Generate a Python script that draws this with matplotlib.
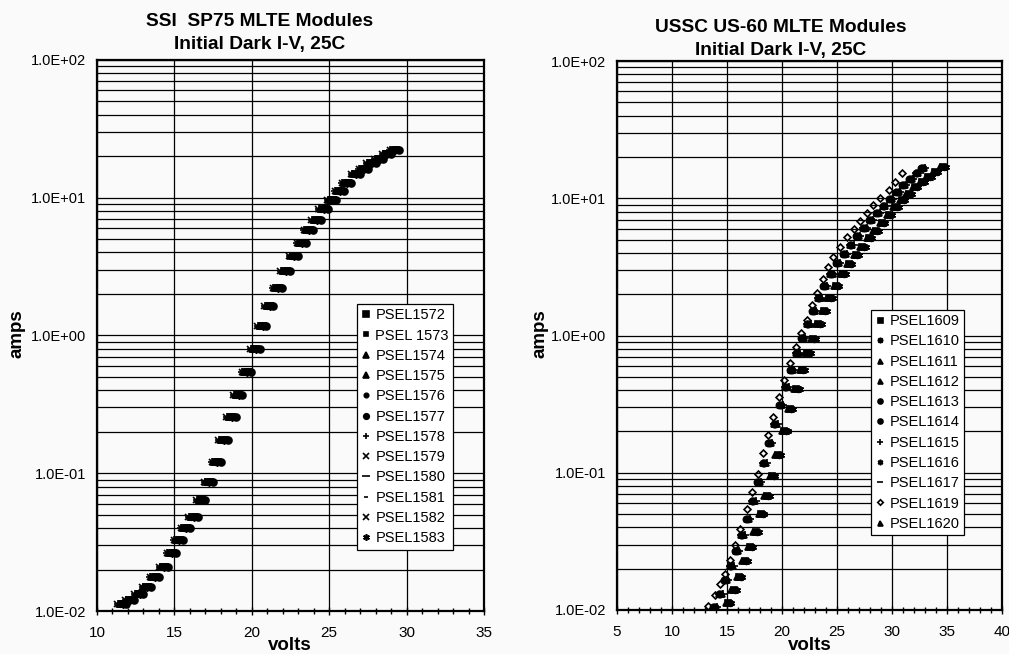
import matplotlib
matplotlib.use("Agg")
import matplotlib.pyplot as plt
from matplotlib.ticker import MultipleLocator, LogLocator, FuncFormatter, NullFormatter

plt.rcParams['font.family'] = ['Liberation Sans', 'DejaVu Sans']

# ---- SSI SP75 modules (left) ----
ssi_names = ['PSEL1572', 'PSEL 1573', 'PSEL1574', 'PSEL1575', 'PSEL1576', 'PSEL1577',
             'PSEL1578', 'PSEL1579', 'PSEL1580', 'PSEL1581', 'PSEL1582', 'PSEL1583']
ssi_markers = ['s', 's', '^', '^', 'o', 'o', '+', 'x', '_', '_', 'x', (6, 2, 0)]
ssi_msize = [5, 4, 5, 5, 4, 5, 6, 5, 7, 4, 5, 6]
# common curve (volts, amps)
ssi_v = [11.6, 12.1, 12.7, 13.2, 13.7, 14.3, 14.8, 15.25, 15.7, 16.2, 16.7, 17.2,
         17.7, 18.15, 18.65, 19.1, 19.65, 20.2, 20.65, 21.1, 21.65, 22.15, 22.7, 23.2,
         23.65, 24.15, 24.6, 25.15, 25.65, 26.1, 26.7, 27.2, 27.7, 28.2, 28.7, 29.2]
ssi_i = [0.0112, 0.0120, 0.0134, 0.0150, 0.0177, 0.0210, 0.0262, 0.0328, 0.0400, 0.048,
         0.064, 0.087, 0.121, 0.174, 0.255, 0.37, 0.546, 0.80, 1.17, 1.62, 2.19, 2.95,
         3.78, 4.7, 5.8, 6.9, 8.2, 9.6, 11.2, 12.7, 14.8, 16.2, 17.8, 19.0, 20.8, 22.2]
# module-to-module spread (volts)
ssi_dv = [0.0, 0.1, -0.2, 0.25, -0.1, 0.3, -0.25, 0.15, -0.05, 0.2, -0.3, 0.05]

# ---- USSC US-60 modules (right) ----
ussc_names = ['PSEL1609', 'PSEL1610', 'PSEL1611', 'PSEL1612', 'PSEL1613', 'PSEL1614',
              'PSEL1615', 'PSEL1616', 'PSEL1617', 'PSEL1619', 'PSEL1620']
ussc_markers = ['s', (8, 1, 0), '^', '^', 'o', 'o', '+', (6, 2, 0), '_', 'D', '^']
ussc_msize = [4.5, 5, 4.5, 4.5, 4.5, 4.5, 5.5, 5, 6, 3.5, 4.5]
ussc_group = ['right', 'right', 'mid', 'mid', 'mid', 'mid', 'mid', 'right', 'mid', 'left', 'right']
ussc_dv = [0.0, 0.15, -0.1, 0.1, 0.0, -0.15, 0.2, 0.3, -0.1, 0.0, -0.2]

left_v = [13.3, 13.9, 14.4, 14.8, 15.27, 15.7, 16.2, 16.8, 17.25, 17.85, 18.3, 18.75,
          19.2, 19.75, 20.2, 20.7, 21.25, 21.7, 22.25, 22.7, 23.15, 23.7, 24.2, 24.67,
          25.27, 25.9, 26.5, 27.1, 27.7, 28.3, 28.9, 29.7, 30.3, 30.9]
left_i = [0.0107, 0.0129, 0.0155, 0.0183, 0.0231, 0.030, 0.0387, 0.0542, 0.072, 0.098,
          0.139, 0.188, 0.256, 0.355, 0.474, 0.627, 0.82, 1.05, 1.30, 1.67, 2.03, 2.57,
          3.17, 3.75, 4.43, 5.19, 5.94, 6.86, 7.77, 8.92, 10.0, 11.5, 13.2, 15.4]
mid_v = [13.9, 14.4, 14.9, 15.4, 15.9, 16.4, 16.9, 17.4, 17.9, 18.4, 18.9, 19.4, 19.9,
         20.4, 20.9, 21.4, 21.9, 22.4, 22.9, 23.4, 23.9, 24.5, 25.1, 25.7, 26.3, 26.9,
         27.5, 28.1, 28.7, 29.3, 29.9, 30.5, 31.1, 31.7, 32.3, 32.8]
mid_i = [0.0105, 0.0130, 0.0165, 0.021, 0.027, 0.035, 0.046, 0.062, 0.085, 0.118, 0.165,
         0.228, 0.31, 0.42, 0.56, 0.74, 0.96, 1.22, 1.52, 1.88, 2.28, 2.80, 3.35, 3.95,
         4.6, 5.3, 6.05, 6.9, 7.8, 8.8, 9.9, 11.1, 12.4, 13.8, 15.2, 16.5]
right_v = [15.1, 15.6, 16.1, 16.6, 17.1, 17.6, 18.1, 18.6, 19.1, 19.6, 20.2, 20.7, 21.3,
           21.8, 22.3, 22.8, 23.3, 23.8, 24.3, 24.9, 25.5, 26.1, 26.7, 27.3, 27.9, 28.5,
           29.1, 29.7, 30.3, 30.9, 31.5, 32.1, 32.7, 33.3, 33.9, 34.6]
right_i = [0.0112, 0.0140, 0.0175, 0.0228, 0.029, 0.037, 0.050, 0.068, 0.095, 0.135, 0.200,
           0.290, 0.41, 0.56, 0.74, 0.95, 1.22, 1.52, 1.88, 2.30, 2.80, 3.30, 3.85, 4.45,
           5.1, 5.8, 6.6, 7.5, 8.6, 9.7, 10.8, 12.0, 13.2, 14.4, 15.6, 17.0]
ussc_curves = {'left': (left_v, left_i), 'mid': (mid_v, mid_i), 'right': (right_v, right_i)}

BG = '#fafafa'
fig = plt.figure(figsize=(10.09, 6.54), dpi=100)
fig.patch.set_facecolor(BG)
ax1 = fig.add_axes([0.0961, 0.0657, 0.3836, 0.843])
ax2 = fig.add_axes([0.6115, 0.0673, 0.3816, 0.8394])


def style(ax, xmin, xmax):
    ax.set_facecolor(BG)
    ax.set_yscale('log')
    ax.set_ylim(0.01, 100)
    ax.set_xlim(xmin, xmax)
    ax.xaxis.set_major_locator(MultipleLocator(5))
    ax.xaxis.set_minor_locator(MultipleLocator(1))
    ax.yaxis.set_major_locator(LogLocator(base=10))
    ax.yaxis.set_minor_locator(LogLocator(base=10, subs=range(2, 10)))
    ax.yaxis.set_major_formatter(FuncFormatter(lambda y, p: f"{y:.1E}"))
    ax.yaxis.set_minor_formatter(NullFormatter())
    ax.grid(True, which='major', axis='x', color='black', lw=0.9)
    ax.grid(True, which='both', axis='y', color='black', lw=0.9)
    ax.set_axisbelow(True)
    ax.tick_params(axis='y', which='both', length=0, pad=8, labelsize=10.5)
    ax.tick_params(axis='x', which='major', length=6, width=1, direction='inout',
                   pad=8, labelsize=11)
    ax.tick_params(axis='x', which='minor', length=5, width=1, direction='inout')
    for s in ax.spines.values():
        s.set_linewidth(1.6)
        s.set_color('black')


style(ax1, 10, 35)
style(ax2, 5, 40)

for name, m, ms, dv in zip(ssi_names, ssi_markers, ssi_msize, ssi_dv):
    ax1.plot([v + dv for v in ssi_v], ssi_i, linestyle='none', marker=m, ms=ms,
             color='black', mec='black', mew=1.2, label=name)

for name, m, ms, g, dv in zip(ussc_names, ussc_markers, ussc_msize, ussc_group, ussc_dv):
    vv, ii = ussc_curves[g]
    kw = dict(mfc='none') if m == 'D' else {}
    ax2.plot([v + dv for v in vv], ii, linestyle='none', marker=m, ms=ms,
             color='black', mec='black', mew=1.2, label=name, **kw)

for ax, anchor in ((ax1, (0.672, 0.557)), (ax2, (0.660, 0.547))):
    leg = ax.legend(loc='upper left', bbox_to_anchor=anchor, fontsize=10.5,
                    frameon=True, fancybox=False, framealpha=1, facecolor='white',
                    edgecolor='black', handlelength=0.6, handletextpad=0.35,
                    borderpad=0.3, labelspacing=0.43, borderaxespad=0, markerscale=0.8)
    leg.get_frame().set_linewidth(0.9)

W, H = 1009, 654
def ft(x, y, s, **kw):
    fig.text(x / W, 1 - y / H, s, ha='center', va='center', **kw)

ft(260, 22, 'SSI  SP75 MLTE Modules', fontsize=13.8, fontweight='bold')
ft(260, 45, 'Initial Dark I-V, 25C', fontsize=13.8, fontweight='bold')
ft(781, 28, 'USSC US-60 MLTE Modules', fontsize=13.8, fontweight='bold')
ft(781, 50, 'Initial Dark I-V, 25C', fontsize=13.8, fontweight='bold')
ft(17, 334, 'amps', fontsize=13.5, fontweight='bold', rotation=90)
ft(540, 334, 'amps', fontsize=13.5, fontweight='bold', rotation=90)
ft(290, 645, 'volts', fontsize=13.5, fontweight='bold')
ft(810, 645, 'volts', fontsize=13.5, fontweight='bold')

fig.savefig('out.png', dpi=100, facecolor=BG)
